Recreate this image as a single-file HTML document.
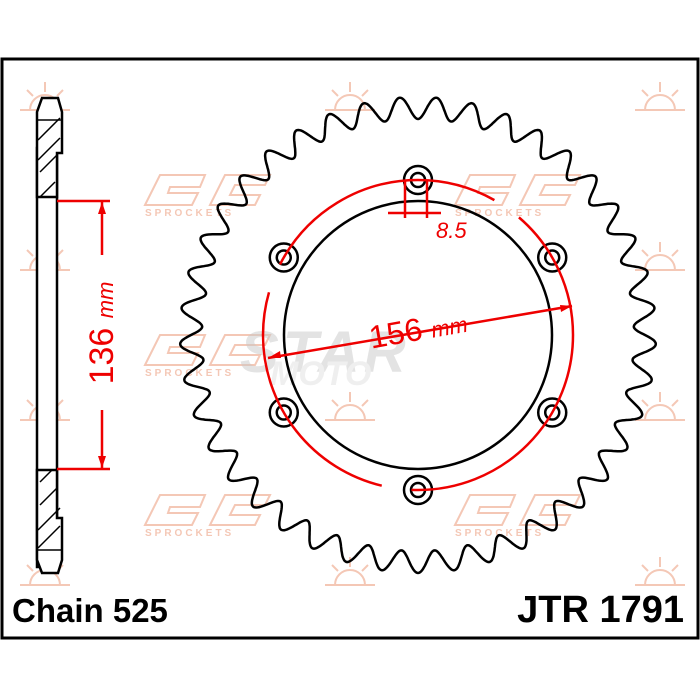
<!DOCTYPE html>
<html><head><meta charset="utf-8"><style>
body{margin:0;background:#fff;}
svg{display:block;}
</style></head><body>
<svg id="s" width="700" height="700" viewBox="0 0 700 700" xmlns="http://www.w3.org/2000/svg" font-family="Liberation Sans, sans-serif">
<rect x="2" y="59" width="696" height="579" fill="none" stroke="#000" stroke-width="3"/>
<g id="wm" fill="none" stroke="#f3c2ae" stroke-width="2" opacity="0.9"></g>
<g fill="#c8c8c8" opacity="0.5" font-style="italic" font-weight="bold" font-size="58">
<text x="240" y="372" letter-spacing="4">STAR</text>
<text x="270" y="385" font-size="34" fill="#e0e0e0">MOTO</text>
</g>
<g stroke="#000" stroke-width="2.5" fill="#fff">
<path d="M37 148 L37 567 L57 567 L57 148 Z"/>
<path d="M42 98 L58 98 L62 112 L62 153 L57 153 L57 197 L37 197 L37 112 Z"/>
<path d="M37 470 L57 470 L57 518 L62 518 L62 560 L58 573 L42 573 L37 560 Z"/>
</g>
<g stroke="#000" stroke-width="1.5">
<line x1="37" y1="120" x2="62" y2="120"/><line x1="37" y1="550" x2="62" y2="550"/>
<line x1="38" y1="140" x2="60" y2="118"/><line x1="38" y1="160" x2="60" y2="138"/><line x1="40" y1="172" x2="57" y2="155"/><line x1="40" y1="197" x2="55" y2="182"/>
<line x1="38" y1="530" x2="60" y2="508"/><line x1="38" y1="548" x2="60" y2="526"/><line x1="40" y1="505" x2="57" y2="488"/><line x1="40" y1="482" x2="52" y2="470"/>
</g>
<g stroke="#e00" stroke-width="2.5" fill="#e00">
<line x1="57" y1="201" x2="110" y2="201"/><line x1="57" y1="469" x2="110" y2="469"/>
<line x1="102" y1="201" x2="102" y2="255"/><line x1="102" y1="410" x2="102" y2="469"/>
<path d="M102 202 l-4 12 h8z" stroke="none"/><path d="M102 468 l-4 -12 h8z" stroke="none"/>
</g>
<text transform="translate(113 333) rotate(-90)" text-anchor="middle" fill="#e00" font-size="34">136 <tspan font-size="22" font-style="italic">mm</tspan></text>
<path id="teeth" fill="none" stroke="#000" stroke-width="2.5"/>
<circle cx="418" cy="335" r="134" fill="none" stroke="#000" stroke-width="2.5"/>
<g id="holes"></g>
<circle cx="418" cy="335" r="155" fill="none" stroke="#e00" stroke-width="2.5" stroke-dasharray="250 30"/>
<g stroke="#e00" stroke-width="2.5" fill="#e00">
<line x1="405" y1="180" x2="405" y2="218"/><line x1="427" y1="180" x2="427" y2="218"/>
<line x1="388" y1="213" x2="441" y2="213"/>
<line x1="268" y1="358" x2="572" y2="306"/>
<path d="M268 358 l12 -7 l1 7z" stroke="none"/><path d="M572 306 l-12 -1 l1 7z" stroke="none"/>
</g>
<text x="436" y="238" fill="#e00" font-size="22" font-style="italic">8.5</text>
<text transform="translate(420 340) rotate(-10)" text-anchor="middle" fill="#e00" font-size="32">156 <tspan font-size="22" font-style="italic">mm</tspan></text>
<text x="12" y="622" font-size="33" font-weight="bold">Chain 525</text>
<text x="684" y="622" font-size="38" font-weight="bold" text-anchor="end">JTR 1791</text>
</svg>
<script>
var cx=418,cy=335,N=41,Rt=238,Rr=216,d="";
for(var i=0;i<=N*36;i++){var a=i/(N*36)*2*Math.PI-Math.PI/2;var t=(i%36)/36;
var f=0.5-0.5*Math.cos(2*Math.PI*t);
var r=Rr+(Rt-Rr)*f;
d+=(i?"L":"M")+(cx+r*Math.cos(a)).toFixed(1)+" "+(cy+r*Math.sin(a)).toFixed(1);}
document.getElementById("teeth").setAttribute("d",d+"Z");
var h="";for(var k=0;k<6;k++){var a=-Math.PI/2+k*Math.PI/3;var x=cx+155*Math.cos(a),y=cy+155*Math.sin(a);
h+='<circle cx="'+x+'" cy="'+y+'" r="14" fill="#fff" stroke="#000" stroke-width="2.5"/><circle cx="'+x+'" cy="'+y+'" r="7" fill="none" stroke="#000" stroke-width="2.5"/>';}
document.getElementById("holes").innerHTML=h;
var w="",pts=[[45,110],[350,110],[660,110],[45,270],[660,270],[45,420],[350,420],[660,420],[45,585],[350,585],[660,585]];
pts.forEach(function(p){w+='<path d="M'+(p[0]-25)+' '+p[1]+' h50 M'+(p[0]-15)+' '+p[1]+' a15 15 0 0 1 30 0 M'+p[0]+' '+(p[1]-28)+' v10 M'+(p[0]-18)+' '+(p[1]-20)+' l6 6 M'+(p[0]+18)+' '+(p[1]-20)+' l-6 6"/>';});
[[200,190],[510,190],[200,350],[200,510],[510,510]].forEach(function(p){w+='<path d="M'+(p[0]-55)+' '+(p[1]+15)+' l15 -30 h45 l-5 12 h-30 l-2 6 h30 l-6 12z M'+(p[0]+10)+' '+(p[1]+15)+' l15 -30 h45 l-5 10 h-30 l-5 10 h30 l-5 10z"/><text x="'+(p[0]-55)+'" y="'+(p[1]+26)+'" font-size="10" fill="#f3c2ae" stroke="none" letter-spacing="3" font-weight="bold">SPROCKETS</text>';});
document.getElementById("wm").innerHTML=w;
</script>
</body></html>
